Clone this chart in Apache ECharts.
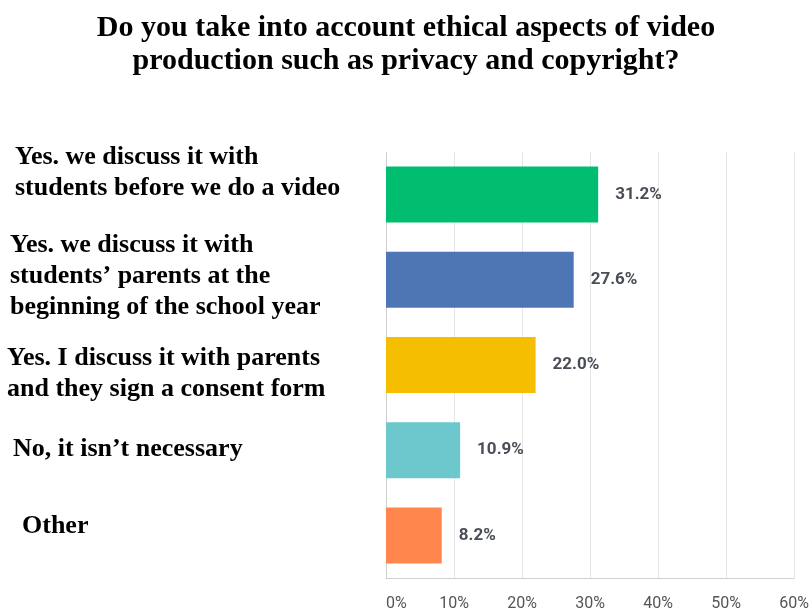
<!DOCTYPE html>
<html>
<head>
<meta charset="utf-8">
<script src="https://cdn.jsdelivr.net/npm/echarts@6/dist/echarts.min.js"></script>
<style>
  html, body { margin: 0; padding: 0; background: #fff; }
  #chart { width: 812px; height: 612px; }
</style>
</head>
<body>
<div id="chart"></div>
<script>
// 选项（类目）
const categories = [
  "Yes. we discuss it with\nstudents before we do a video",
  "Yes. we discuss it with\nstudents\u2019 parents at the\nbeginning of the school year",
  "Yes. I discuss it with parents\nand they sign a consent form",
  "No, it isn\u2019t necessary",
  "Other"
];
// 百分比
const values = [31.2, 27.6, 22.0, 10.9, 8.2];
// 每个柱子的颜色
const barColors = ["#00bd6f", "#4f76b4", "#f5be00", "#6cc8cc", "#ff874d"];
// x轴刻度
const tickMax = 60;
const tickStep = 10;

// 左侧标签的微调：左缩进、上下偏移（负数往上）
const labelIndent = [8, 3, 0, 6, 15];
const labelShift = [-22, -4, 9, -1, -9];

const labelFont = {
  fontFamily: "Liberation Serif",
  fontWeight: "bold",
  fontSize: 26,
  lineHeight: 31,
  color: "#000"
};

// 给每一类造一个富文本样式
const rich = {};
labelIndent.forEach((dx, i) => {
  rich["l" + i] = Object.assign({ padding: [0, 0, 0, dx] }, labelFont);
  rich["sp" + i] = { fontSize: 1, lineHeight: Math.abs(labelShift[i]) * 2 };
});

function formatLabel(value, idx) {
  let lines = value.split("\n").map(s => "{l" + idx + "|" + s + "}");
  const sh = labelShift[idx];
  if (sh < 0) lines.push("{sp" + idx + "| }");
  if (sh > 0) lines.unshift("{sp" + idx + "| }");
  return lines.join("\n");
}

const chart = echarts.init(document.getElementById("chart"));

const option = {
  backgroundColor: "#fff",
  title: {
    text: "Do you take into account ethical aspects of video\nproduction such as privacy and copyright?",
    left: "center",
    top: 7,
    textStyle: {
      fontFamily: "Liberation Serif",
      fontWeight: "bold",
      fontSize: 30,
      lineHeight: 33,
      color: "#000"
    }
  },
  grid: {
    left: 386,
    right: 18,
    top: 152,
    bottom: 34,
    containLabel: false,
    outerBoundsMode: "none"
  },
  xAxis: {
    type: "value",
    min: 0,
    max: tickMax,
    interval: tickStep,
    axisLine: { show: true, lineStyle: { color: "#cfcfcf" } },
    axisTick: { show: false },
    splitLine: { lineStyle: { color: "#e6e6e6" } },
    axisLabel: {
      formatter: "{value}%",
      margin: 18,
      color: "#555",
      fontSize: 16,
      fontFamily: "Roboto",
      alignMinLabel: "left",
      hideOverlap: false
    }
  },
  yAxis: {
    type: "category",
    inverse: true,
    data: categories,
    axisLine: { show: true, lineStyle: { color: "#cfcfcf" } },
    axisTick: { show: false },
    axisLabel: {
      interval: 0,
      align: "left",
      margin: 379,
      formatter: formatLabel,
      rich: rich
    }
  },
  series: [
    {
      type: "bar",
      data: values.map((v, i) => ({ value: v, itemStyle: { color: barColors[i] } })),
      barWidth: 56,
      label: {
        show: true,
        position: "right",
        distance: 17,
        formatter: p => p.value.toFixed(1) + "%",
        color: "#4a4e57",
        fontSize: 17,
        fontWeight: "bold",
        fontFamily: "Roboto"
      }
    }
  ]
};

chart.setOption(option);
</script>
</body>
</html>
